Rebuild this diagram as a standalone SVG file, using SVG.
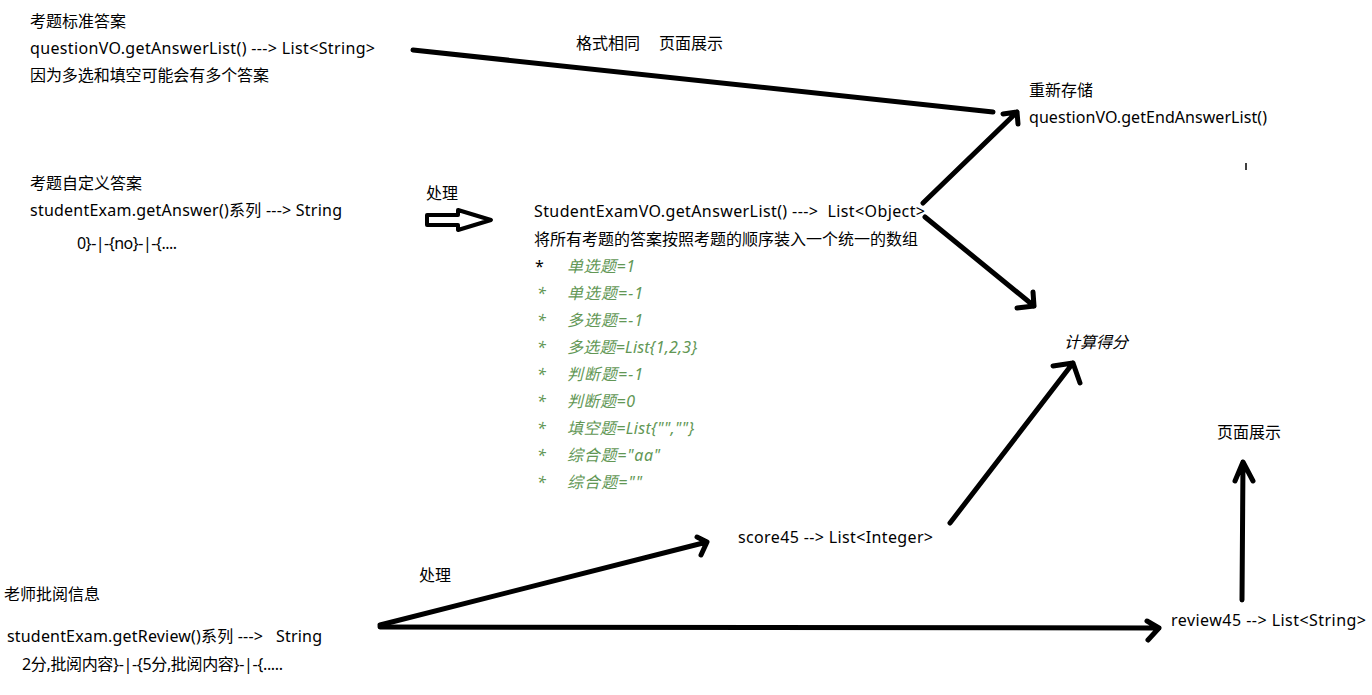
<svg xmlns="http://www.w3.org/2000/svg" width="1372" height="695" viewBox="0 0 1372 695">
<style>
text{font-family:"Noto Sans","Noto Sans CJK SC",sans-serif;font-size:16px;fill:#000;white-space:pre}
.g{fill:#629755;font-style:italic}
.i{font-style:italic}
.c{fill:none;stroke:#000;stroke-width:5;stroke-linecap:round;stroke-linejoin:round}
</style>
<rect width="1372" height="695" fill="#fff"/>
<g id="std-answer">
<text x="30" y="27">考题标准答案</text>
<text x="30" y="54" textLength="345" xml:space="preserve">questionVO.getAnswerList() ---&gt; List&lt;String&gt;</text>
<text x="30" y="81" textLength="239">因为多选和填空可能会有多个答案</text>
</g>
<g id="label-format">
<text x="576" y="49">格式相同</text>
<text x="659" y="49">页面展示</text>
</g>
<g id="end-answer">
<text x="1029" y="96">重新存储</text>
<text x="1029" y="123" textLength="238">questionVO.getEndAnswerList()</text>
</g>
<g id="custom-answer">
<text x="30" y="189">考题自定义答案</text>
<text x="30" y="216" textLength="312" xml:space="preserve">studentExam.getAnswer()系列 ---&gt; String</text>
<text x="77" y="249" textLength="100">0}-|-{no}-|-{....</text>
</g>
<g id="process1">
<text x="426" y="199">处理</text>
<polygon points="427,215 458,215 458,210 491,220 458,230 458,225 427,225" fill="none" stroke="#000" stroke-width="4" stroke-linejoin="round"/>
</g>
<g id="answer-list">
<text x="534" y="217" textLength="391" xml:space="preserve">StudentExamVO.getAnswerList() ---&gt;  List&lt;Object&gt;</text>
<text x="534" y="245" textLength="384">将所有考题的答案按照考题的顺序装入一个统一的数组</text>
<text x="535" y="272">*</text>
<text class="g" x="567" y="272" textLength="68">单选题=1</text>
<text class="g" x="537" y="299">*</text>
<text class="g" x="567" y="299" textLength="76">单选题=-1</text>
<text class="g" x="537" y="326">*</text>
<text class="g" x="567" y="326" textLength="76">多选题=-1</text>
<text class="g" x="537" y="353">*</text>
<text class="g" x="567" y="353" textLength="130">多选题=List{1,2,3}</text>
<text class="g" x="537" y="380">*</text>
<text class="g" x="567" y="380" textLength="76">判断题=-1</text>
<text class="g" x="537" y="407">*</text>
<text class="g" x="567" y="407" textLength="68">判断题=0</text>
<text class="g" x="537" y="434">*</text>
<text class="g" x="567" y="434" textLength="127">填空题=List{"",""}</text>
<text class="g" x="537" y="461">*</text>
<text class="g" x="567" y="461" textLength="93">综合题="aa"</text>
<text class="g" x="537" y="488">*</text>
<text class="g" x="567" y="488" textLength="75">综合题=""</text>
</g>
<g id="calc-score">
<text class="i" x="1064" y="348">计算得分</text>
</g>
<g id="page-show">
<text x="1217" y="438">页面展示</text>
</g>
<g id="score45">
<text x="738" y="543" textLength="195">score45 --&gt; List&lt;Integer&gt;</text>
</g>
<g id="process2">
<text x="419" y="581">处理</text>
</g>
<g id="teacher-review">
<text x="4" y="600">老师批阅信息</text>
<text x="7" y="642" textLength="315" xml:space="preserve">studentExam.getReview()系列 ---&gt;   String</text>
<text x="22" y="670" textLength="261">2分,批阅内容}-|-{5分,批阅内容}-|-{.....</text>
</g>
<g id="review45">
<text x="1171" y="626" textLength="195">review45 --&gt; List&lt;String&gt;</text>
</g>
<g id="connectors">
<path class="c" d="M413,50 L993,112"/>
<path class="c" d="M923,203 L1017,112 M1003,114 L1017,112 L1018,124"/>
<path class="c" d="M925,217 L1034,306 M1017,308 L1034,306 L1033,292"/>
<path class="c" d="M950,523 L1073,363 M1053,366 L1073,363 L1080,383"/>
<path class="c" d="M380,625 L707,542 M697,537 L707,542 L701,555"/>
<path class="c" d="M380,627 L1159,628 M1147,621 L1159,628 L1148,640"/>
<path class="c" d="M1242,600 L1243,462 M1235,481 L1243,462 L1253,481"/>
<path d="M1246,163 L1246,170" stroke="#000" stroke-width="1.5"/>
</g>
</svg>
